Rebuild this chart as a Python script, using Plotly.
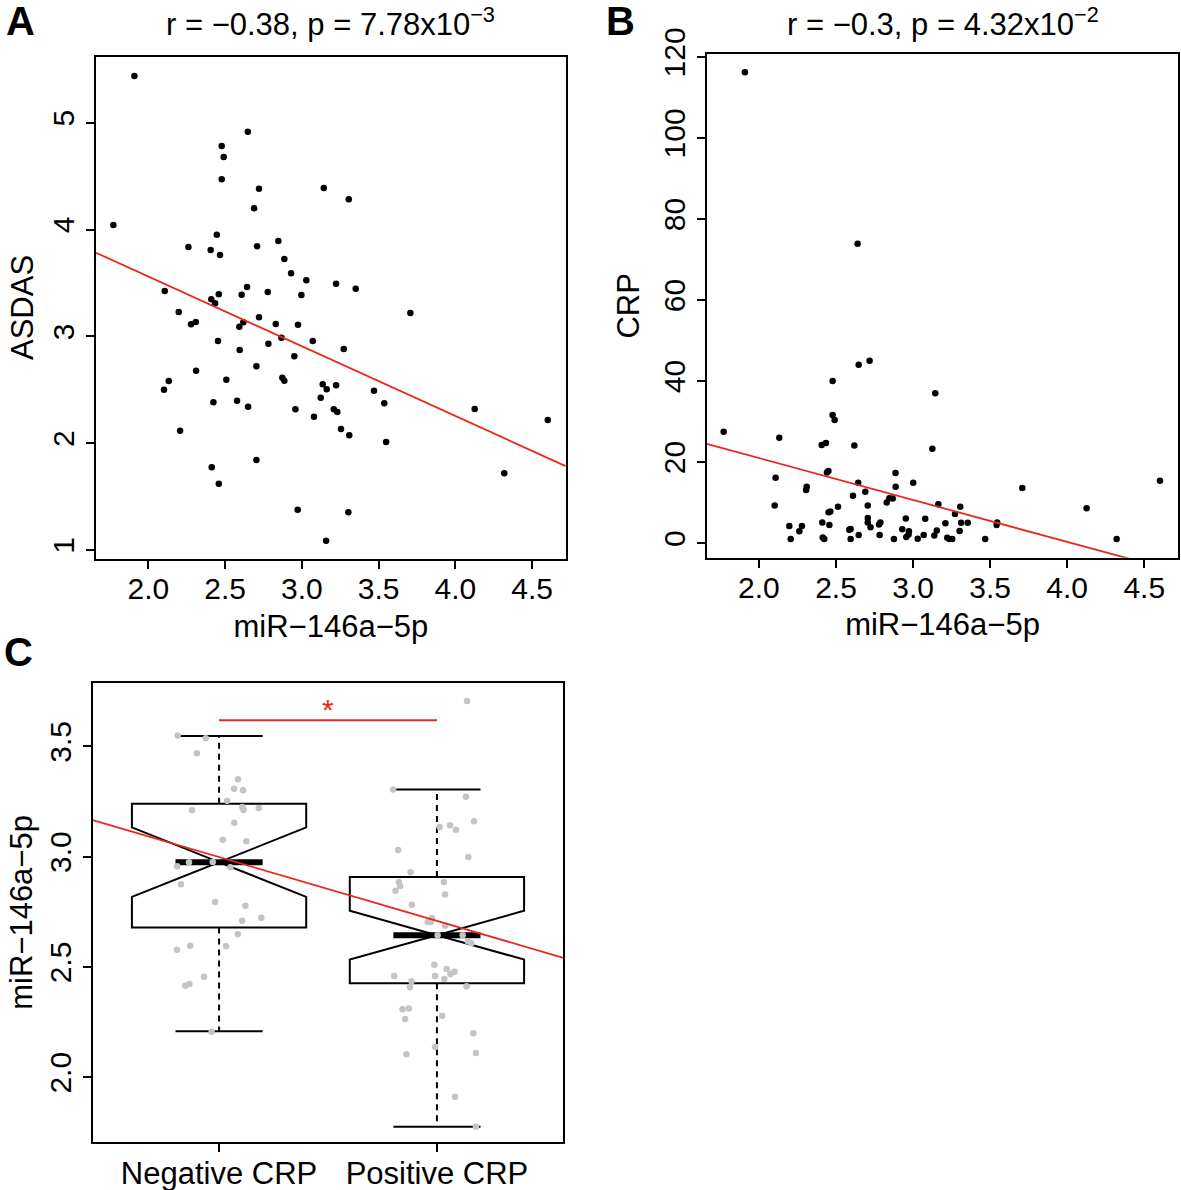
import numpy as np
import plotly.graph_objects as go

W, H = 1181, 1190
FONT = "Liberation Sans, Arial, sans-serif"
RED = "#e8281c"
TICK_SIZE = 30
LABEL_SIZE = 31

# ---------------- Panel A data: miR-146a-5p vs ASDAS ----------------
mir_a = [1.909, 2.648, 2.478, 2.491, 2.478, 2.721, 3.143, 3.306, 2.689, 1.772,
         2.446, 2.261, 2.406, 2.467, 2.708, 2.847, 2.886, 2.930, 3.029, 3.223,
         3.351, 2.643, 2.608, 2.778, 2.997, 2.107, 2.459, 2.410, 2.435, 3.707,
         2.198, 2.278, 2.309, 2.721, 2.619, 2.593, 2.830, 2.975, 2.867, 3.071,
         2.454, 2.782, 2.595, 3.273, 2.951, 2.704, 2.311, 2.133, 2.102, 2.508,
         2.873, 2.886, 3.136, 3.162, 3.223, 3.470, 3.123, 2.424, 2.578, 2.650,
         2.958, 3.537, 4.126, 4.602, 3.079, 3.208, 3.231, 3.255, 3.309, 2.207,
         3.549, 2.704, 2.413, 2.459, 4.319, 2.973, 3.303, 3.158]
asdas = [5.437, 4.916, 4.782, 4.679, 4.470, 4.382, 4.389, 4.283, 4.198, 4.042,
         3.951, 3.836, 3.808, 3.761, 3.843, 3.892, 3.724, 3.590, 3.524, 3.493,
         3.446, 3.462, 3.390, 3.415, 3.387, 3.424, 3.393, 3.346, 3.309, 3.218,
         3.228, 3.112, 3.134, 3.178, 3.131, 3.090, 3.115, 3.109, 2.987, 2.956,
         2.956, 2.931, 2.872, 2.881, 2.813, 2.719, 2.678, 2.581, 2.500, 2.594,
         2.612, 2.584, 2.551, 2.504, 2.541, 2.491, 2.425, 2.382, 2.397, 2.341,
         2.316, 2.373, 2.319, 2.216, 2.247, 2.316, 2.291, 2.132, 2.073, 2.116,
         2.010, 1.842, 1.773, 1.620, 1.717, 1.376, 1.352, 1.086]
asdas_fit = {"intercept": 4.866, "slope": -0.653}
title_a = "r = \u22120.38, p = 7.78x10<sup>\u22123</sup>"

# ---------------- Panel B data: miR-146a-5p vs CRP ----------------
mir_b = [1.909, 2.640, 2.647, 2.718, 2.478, 3.144, 2.478, 2.491, 1.771, 2.132,
         2.407, 2.435, 2.619, 3.125, 2.108, 2.441, 2.451, 2.886, 4.602, 2.310,
         2.306, 2.644, 3.001, 2.887, 3.709, 2.690, 2.610, 2.846, 2.868, 2.829,
         2.102, 2.706, 3.164, 3.306, 4.126, 2.513, 2.463, 2.452, 3.272, 2.953,
         3.079, 2.706, 2.706, 2.411, 2.788, 2.779, 3.210, 3.312, 3.355, 3.546,
         3.542, 2.457, 2.197, 2.279, 2.262, 2.724, 2.586, 2.595, 2.930, 2.973,
         2.971, 2.956, 3.154, 3.302, 2.647, 2.783, 3.069, 3.138, 2.206, 2.414,
         2.424, 2.595, 2.876, 3.030, 3.222, 3.235, 3.254, 3.468, 4.321]
crp = [116.2, 73.9, 44.0, 45.0, 40.0, 37.0, 31.6, 30.4, 27.5, 26.0,
       24.2, 24.7, 24.1, 23.3, 16.1, 17.4, 17.8, 17.3, 15.4, 13.9,
       13.1, 14.9, 14.9, 13.9, 13.6, 12.7, 11.7, 11.1, 11.0, 10.0,
       9.3, 9.3, 9.6, 9.0, 8.6, 9.0, 7.8, 7.6, 7.2, 6.1,
       6.0, 6.2, 5.1, 5.1, 5.1, 4.6, 4.9, 5.0, 5.0, 5.1,
       4.5, 4.5, 4.2, 4.2, 2.9, 3.9, 3.3, 3.5, 3.4, 2.9,
       2.1, 1.5, 3.1, 3.0, 2.0, 2.0, 2.0, 1.9, 1.0, 1.4,
       1.0, 1.0, 1.0, 1.1, 1.3, 1.0, 1.0, 1.0, 1.0]
crp_fit = {"intercept": 41.67, "slope": -10.34}
title_b = "r = \u22120.3, p = 4.32x10<sup>\u22122</sup>"

# ---------------- Panel C data: box plot by CRP status ----------------
groups = ["Negative CRP", "Positive CRP"]
neg_vals = [3.549, 3.537, 3.469, 3.351, 3.308, 3.301, 3.253, 3.225, 3.212, 3.221,
            3.210, 3.154, 3.077, 3.070, 2.975, 2.976, 2.956, 2.952, 2.875, 2.795,
            2.778, 2.710, 2.723, 2.648, 2.596, 2.578, 2.594, 2.456, 2.415, 2.423, 2.206]
neg_jit = [-0.190, -0.061, -0.102, 0.087, 0.069, 0.110, 0.037, 0.107, 0.112, 0.182,
           -0.124, 0.070, 0.017, 0.125, -0.138, -0.029, -0.192, 0.052, -0.175, -0.018,
           0.121, 0.106, 0.194, 0.086, -0.133, -0.193, 0.032, -0.069, -0.155, -0.136, -0.034]
pos_vals = [3.706, 3.304, 3.272, 3.161, 3.135, 3.142, 3.122, 3.030, 2.999, 2.929,
            2.885, 2.867, 2.846, 2.885, 2.829, 2.782, 2.722, 2.704, 2.704, 2.687,
            2.644, 2.644, 2.616, 2.607, 2.510, 2.491, 2.468, 2.478, 2.445, 2.459,
            2.459, 2.435, 2.408, 2.412, 2.308, 2.312, 2.264, 2.279, 2.199, 2.137,
            2.104, 2.110, 1.912, 1.776]
pos_jit = [0.138, -0.201, 0.133, 0.170, 0.012, 0.060, 0.087, -0.178, 0.144, -0.121,
           -0.175, -0.169, -0.190, 0.032, 0.037, -0.115, -0.023, -0.043, -0.028, 0.038,
           0.003, 0.118, 0.142, 0.158, -0.012, 0.044, 0.062, 0.081, 0.034, -0.009,
           -0.196, -0.117, -0.124, 0.136, -0.158, -0.129, -0.146, 0.024, 0.167, -0.009,
           -0.140, 0.179, 0.083, 0.179]
box_lw = [2.208, 1.776]
box_q1 = [2.679, 2.426]
box_med = [2.975, 2.644]
box_q3 = [3.240, 2.908]
box_uw = [3.547, 3.304]
box_notch = [0.1575, 0.1105]
trend_c = [2.998, 2.709]   # trend line value at Negative / Positive
sig_y = 3.619

fig = go.Figure()

def px_dom(a, b):
    return [a / W, b / W]

def py_dom(top, bottom):
    return [1 - bottom / H, 1 - top / H]

def ppx(x):
    return x / W

def ppy(y):
    return 1 - y / H

axis_common = dict(showline=True, linecolor="black", linewidth=2, mirror=True,
                   ticks="outside", ticklen=8, tickwidth=2, tickcolor="black",
                   showgrid=False, zeroline=False, automargin=False,
                   tickfont=dict(family=FONT, size=TICK_SIZE, color="black"))
xaxis_common = dict(axis_common, ticklabelstandoff=-6)
title_font = dict(family=FONT, size=LABEL_SIZE, color="black")

# ---- Panel A ----
fig.add_trace(go.Scatter(x=mir_a, y=asdas, mode="markers",
                         marker=dict(color="black", size=6.5), xaxis="x", yaxis="y",
                         showlegend=False))
xa_rng = [1.659, 4.719]
xr = np.array(xa_rng)
fig.add_trace(go.Scatter(x=xr, y=asdas_fit["intercept"] + asdas_fit["slope"] * xr,
                         mode="lines", line=dict(color=RED, width=1.8),
                         xaxis="x", yaxis="y", showlegend=False))

# ---- Panel B ----
fig.add_trace(go.Scatter(x=mir_b, y=crp, mode="markers",
                         marker=dict(color="black", size=6.5), xaxis="x2", yaxis="y2",
                         showlegend=False))
xb_rng = [1.661, 4.721]
xr = np.array(xb_rng)
fig.add_trace(go.Scatter(x=xr, y=crp_fit["intercept"] + crp_fit["slope"] * xr,
                         mode="lines", line=dict(color=RED, width=1.8),
                         xaxis="x2", yaxis="y2", showlegend=False))

# ---- Panel C ----
pos_idx = [1, 2]
fig.add_trace(go.Box(x=pos_idx, q1=box_q1, median=box_med, q3=box_q3,
                     lowerfence=box_q1, upperfence=box_q3, notchspan=box_notch,
                     notched=True, notchwidth=0.5, width=0.8, whiskerwidth=0,
                     fillcolor="white", line=dict(color="black", width=2),
                     boxpoints=False, xaxis="x3", yaxis="y3", showlegend=False))
# dashed whiskers
wx, wy = [], []
for p, lw, q1, q3, uw in zip(pos_idx, box_lw, box_q1, box_q3, box_uw):
    wx += [p, p, None, p, p, None]
    wy += [q3, uw, None, q1, lw, None]
fig.add_trace(go.Scatter(x=wx, y=wy, mode="lines",
                         line=dict(color="black", width=2, dash="6px,5px"),
                         xaxis="x3", yaxis="y3", showlegend=False))
# caps and medians
cap = 0.2
cx, cy, mx, my = [], [], [], []
for p, lw, uw, md in zip(pos_idx, box_lw, box_uw, box_med):
    cx += [p - cap, p + cap, None, p - cap, p + cap, None]
    cy += [uw, uw, None, lw, lw, None]
    mx += [p - cap, p + cap, None]
    my += [md, md, None]
fig.add_trace(go.Scatter(x=cx, y=cy, mode="lines", line=dict(color="black", width=2),
                         xaxis="x3", yaxis="y3", showlegend=False))
fig.add_trace(go.Scatter(x=mx, y=my, mode="lines", line=dict(color="black", width=6),
                         xaxis="x3", yaxis="y3", showlegend=False))
# jittered points
fig.add_trace(go.Scatter(x=[1 + j for j in neg_jit] + [2 + j for j in pos_jit],
                         y=neg_vals + pos_vals, mode="markers",
                         marker=dict(color="#c4c4c4", size=6.5),
                         xaxis="x3", yaxis="y3", showlegend=False))
# trend line
xc_rng = [0.42, 2.58]
xr = np.array(xc_rng)
slope_c = (trend_c[1] - trend_c[0]) / (pos_idx[1] - pos_idx[0])
fig.add_trace(go.Scatter(x=xr, y=trend_c[0] + slope_c * (xr - pos_idx[0]), mode="lines",
                         line=dict(color=RED, width=1.8),
                         xaxis="x3", yaxis="y3", showlegend=False))
# significance bar
fig.add_trace(go.Scatter(x=pos_idx, y=[sig_y, sig_y], mode="lines",
                         line=dict(color=RED, width=2),
                         xaxis="x3", yaxis="y3", showlegend=False))

fig.update_layout(
    template="none",
    width=W, height=H, margin=dict(l=0, r=0, t=0, b=0, autoexpand=False),
    paper_bgcolor="white", plot_bgcolor="white",
    font=dict(family=FONT, size=TICK_SIZE, color="black"),
    xaxis=dict(domain=px_dom(96, 565.7), range=xa_rng, anchor="y",
               tickvals=[2.0, 2.5, 3.0, 3.5, 4.0, 4.5], tickformat=".1f",
               title=dict(text="miR\u2212146a\u22125p", standoff=11, font=title_font),
               **xaxis_common),
    yaxis=dict(domain=py_dom(56.7, 559.3), range=[0.912, 5.618], anchor="x",
               tickvals=[1, 2, 3, 4, 5], tickangle=-90, **axis_common),
    xaxis2=dict(domain=px_dom(706.7, 1178.3), range=xb_rng, anchor="y2",
                tickvals=[2.0, 2.5, 3.0, 3.5, 4.0, 4.5], tickformat=".1f",
                title=dict(text="miR\u2212146a\u22125p", standoff=11, font=title_font),
                **xaxis_common),
    yaxis2=dict(domain=py_dom(54, 557.7), range=[-3.6, 120.7], anchor="x2",
                tickvals=[0, 20, 40, 60, 80, 100, 120], tickangle=-90,
                title=dict(text="CRP", standoff=9, font=title_font),
                **axis_common),
    xaxis3=dict(domain=px_dom(92.7, 563.3), range=xc_rng, anchor="y3",
                tickvals=pos_idx, ticktext=groups,
                **dict(xaxis_common, tickfont=title_font)),
    yaxis3=dict(domain=py_dom(683.3, 1142.3), range=[1.705, 3.786], anchor="x3",
                tickvals=[2.0, 2.5, 3.0, 3.5], tickformat=".1f", tickangle=-90,
                **axis_common),
)

annotations = [
    dict(text="<b>A</b>", x=ppx(20), y=ppy(21)),
    dict(text="<b>B</b>", x=ppx(621), y=ppy(21)),
    dict(text="<b>C</b>", x=ppx(18), y=ppy(652)),
]
for a in annotations:
    a.update(xref="paper", yref="paper", showarrow=False, xanchor="center",
             yanchor="middle", font=dict(family=FONT, size=40, color="black"))
fig.update_layout(annotations=annotations)
fig.add_annotation(text=title_a, xref="paper", yref="paper", x=ppx((96 + 565.7) / 2),
                   y=ppy(22), showarrow=False, xanchor="center", yanchor="middle",
                   font=title_font)
fig.add_annotation(text=title_b, xref="paper", yref="paper", x=ppx((706.7 + 1178.3) / 2),
                   y=ppy(22), showarrow=False, xanchor="center", yanchor="middle",
                   font=title_font)
# y-axis titles of panels A and C
fig.add_annotation(text="ASDAS", xref="paper", yref="paper", x=ppx(23),
                   y=ppy((56.7 + 559.3) / 2), textangle=-90, showarrow=False,
                   xanchor="center", yanchor="middle", font=title_font)
fig.add_annotation(text="miR\u2212146a\u22125p", xref="paper", yref="paper", x=ppx(22),
                   y=ppy((683.3 + 1142.3) / 2), textangle=-90, showarrow=False,
                   xanchor="center", yanchor="middle", font=title_font)
fig.add_annotation(text="*", xref="x3", yref="y3", x=1.5, y=sig_y, showarrow=False,
                   yanchor="bottom", yshift=-8, font=dict(family=FONT, size=30, color=RED))

# remove the browser's default 8px body margin so the figure fills the window
fig.write_html("out.html", config={"displayModeBar": False},
               post_script="document.body.style.margin='0px';")
